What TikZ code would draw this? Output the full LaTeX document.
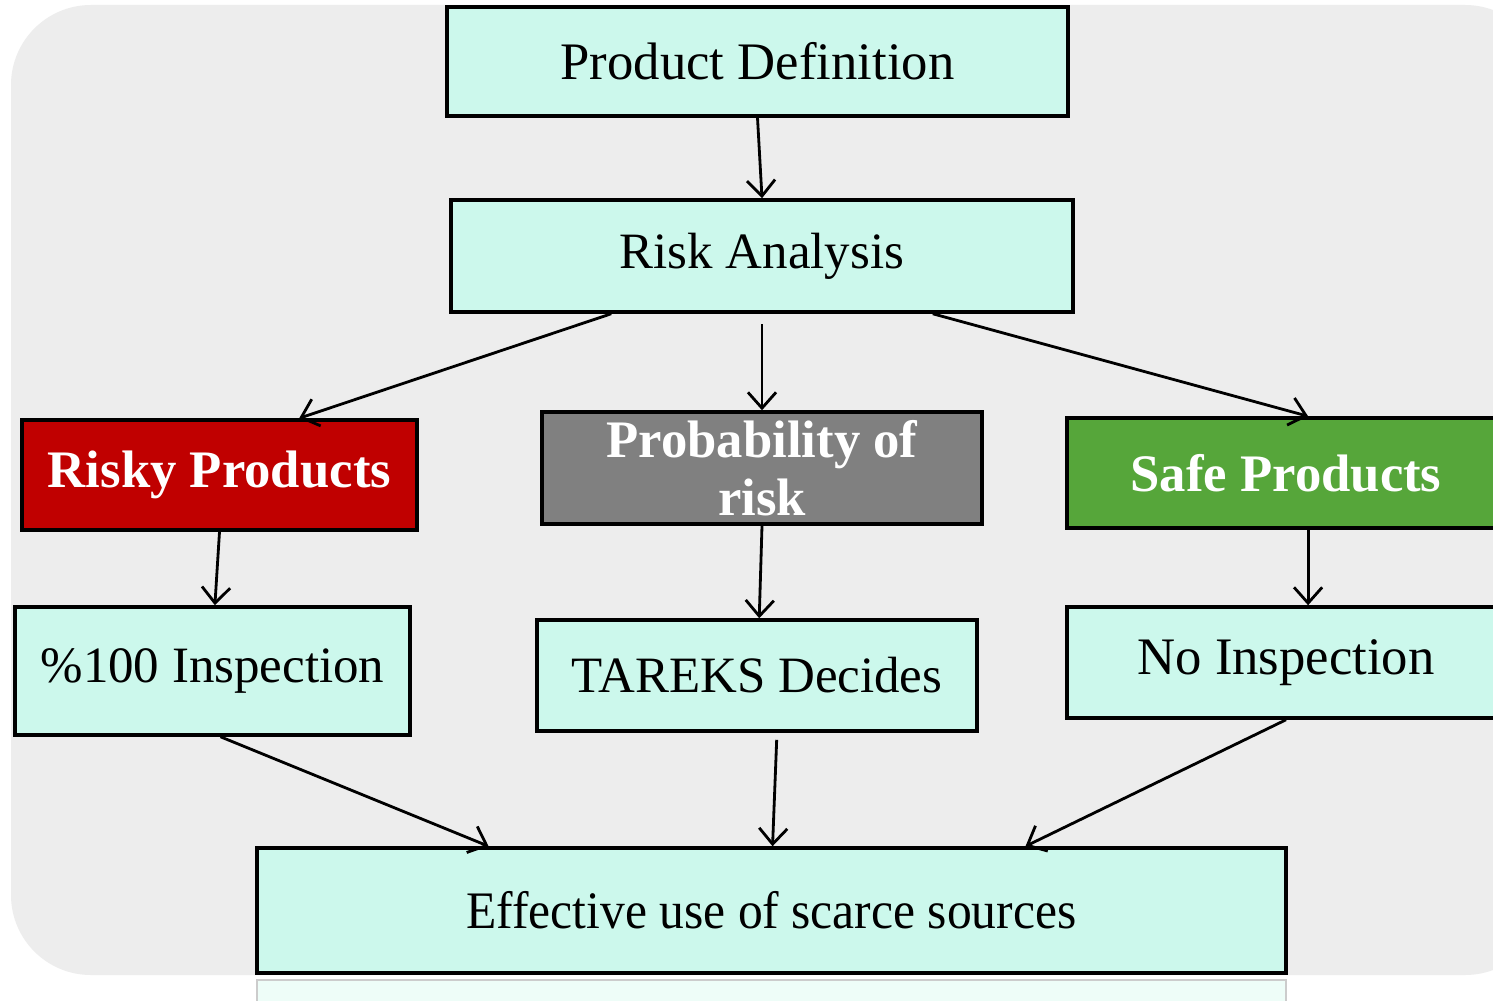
\documentclass[tikz,border=0pt]{standalone}
\usepackage{fontspec}
\setmainfont{Liberation Serif}
\usetikzlibrary{arrows.meta,calc}
\definecolor{boxfill}{HTML}{CCF8EC}
\definecolor{bggray}{HTML}{EDEDED}
\definecolor{riskred}{HTML}{C00000}
\definecolor{probgray}{HTML}{808080}
\definecolor{safegreen}{HTML}{56A63A}
\definecolor{reflfill}{HTML}{EEFDF8}
\tikzset{
  flowbox/.style={draw=black, line width=2pt, fill=boxfill, rectangle, inner sep=0pt,
    font=\fontsize{30}{32}\selectfont, text=black},
  colbox/.style={draw=black, line width=2pt, rectangle, inner sep=0pt,
    font=\fontsize{30}{30}\selectfont\bfseries, text=white, align=center},
  conn/.style={line width=1.6pt, -{Straight Barb[length=9pt,width=16pt,line width=1.6pt]}}
}
\begin{document}
\begin{tikzpicture}[x=0.02cm,y=-0.02cm]
\useasboundingbox (0,0) rectangle (1493,1000);
\fill[white] (0,0) rectangle (1493,1000);
% background panel
\fill[bggray, rounded corners=1.6cm] (11,5) rectangle (1545,975);
% reflection below bottom box
\fill[reflfill] (257,980) rectangle (1286,1010);
\draw[gray!40, line width=1pt] (257,1010) -- (257,980) -- (1286,980) -- (1286,1010);

\node[flowbox, minimum width=621*0.02cm, minimum height=109*0.02cm] (pd) at (757.5,61.5) {Product Definition};
\node[flowbox, minimum width=622*0.02cm, minimum height=112*0.02cm, font=\fontsize{29}{32}\selectfont] (ra) at (762,256) {Risk Analysis};
\node[colbox, fill=riskred, minimum width=395*0.02cm, minimum height=110*0.02cm] (risky) at (219.5,475) {Risky Products};
\node[colbox, fill=probgray, minimum width=440*0.02cm, minimum height=112*0.02cm, font=\fontsize{30}{33}\selectfont\bfseries] (prob) at (762,468) {Probability of\\risk};
\node[colbox, fill=safegreen, minimum width=438*0.02cm, minimum height=110*0.02cm] (safe) at (1286,473) {Safe Products};
\node[flowbox, minimum width=395*0.02cm, minimum height=128*0.02cm, font=\fontsize{29}{32}\selectfont] (insp) at (212.5,671) {\%100 Inspection};
\node[flowbox, minimum width=440*0.02cm, minimum height=111*0.02cm, font=\fontsize{29}{32}\selectfont] (tareks) at (757,675.5) {TAREKS Decides};
\node[flowbox, minimum width=438*0.02cm, minimum height=111*0.02cm] (noinsp) at (1286,662.5) {No Inspection};
\node[flowbox, minimum width=1029*0.02cm, minimum height=125*0.02cm] (eff) at (771.5,910.5) {\scalebox{0.94}[1]{Effective use of scarce sources}};

\draw[conn] (pd.south) -- ($(ra.north west)!0.5!(ra.north east)$);
\draw[conn] ($(ra.south west)!0.259!(ra.south east)$) -- ($(risky.north west)!0.70!(risky.north east)$);
\draw[conn, shorten <=6pt] (ra.south) -- (prob.north);
\draw[conn] ($(ra.south west)!0.773!(ra.south east)$) -- ($(safe.north west)!0.55!(safe.north east)$);
\draw[conn] (risky.south) -- ($(insp.north west)!0.506!(insp.north east)$);
\draw[conn] (prob.south) -- ($(tareks.north west)!0.505!(tareks.north east)$);
\draw[conn] ($(safe.south west)!0.55!(safe.south east)$) -- ($(noinsp.north west)!0.55!(noinsp.north east)$);
\draw[conn] ($(insp.south west)!0.52!(insp.south east)$) -- ($(eff.north west)!0.226!(eff.north east)$);
\draw[conn, shorten <=4pt] ($(tareks.south west)!0.545!(tareks.south east)$) -- ($(eff.north west)!0.501!(eff.north east)$);
\draw[conn] (noinsp.south) -- ($(eff.north west)!0.746!(eff.north east)$);
\end{tikzpicture}
\end{document}
